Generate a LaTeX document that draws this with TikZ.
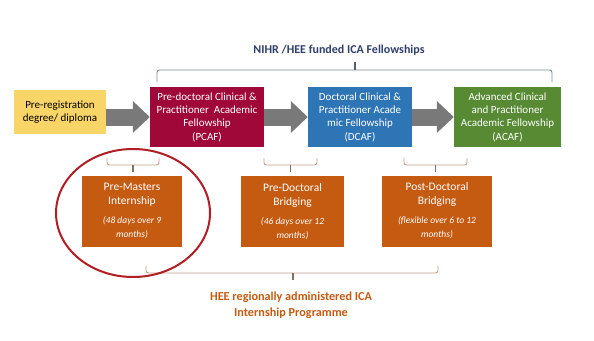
\documentclass[tikz,border=0pt]{standalone}
\usepackage{fontspec}
\setmainfont{Carlito}
\usetikzlibrary{arrows.meta}
\definecolor{prereg}{HTML}{F9D466}
\definecolor{pcafred}{HTML}{A0083A}
\definecolor{dcafblue}{HTML}{2E75B6}
\definecolor{acafgreen}{HTML}{578A33}
\definecolor{hee}{HTML}{C55A11}
\definecolor{nihr}{HTML}{2F3F6B}
\definecolor{ringred}{HTML}{B01E23}
\definecolor{topbr}{HTML}{7C889C}
\definecolor{lowbr}{HTML}{C0A089}
\newcommand\itsm{\fontsize{9.5}{13}\itshape\selectfont}
\begin{document}
\begin{tikzpicture}[x=1pt,y=-1pt,
  fellow/.style={minimum height=60pt,inner sep=0pt,align=center,text=white,font=\fontsize{11}{13.3}\selectfont},
  intern/.style={fill=hee,minimum height=71pt,inner sep=0pt,align=center,text=white,font=\fontsize{11.5}{14}\selectfont},
  blockarrow/.style={line width=17pt,draw=gray!95!black,-{Triangle[length=17pt,width=31pt]}},
  bracket/.style={line width=.9pt,rounded corners=2.5pt}]
\useasboundingbox (0,0) rectangle (594,340);
\node[fill=prereg,minimum width=92pt,minimum height=44pt,align=center,font=\fontsize{11}{13}\selectfont] (prereg) at (60,112){Pre-registration\\degree/ diploma};
\node[fellow,fill=pcafred,minimum width=114pt] (pcaf) at (207,117){Pre-doctoral Clinical \&\\Practitioner\ \ Academic\\Fellowship\\(PCAF)};
\node[fellow,fill=dcafblue,minimum width=104pt] (dcaf) at (360,117){Doctoral Clinical \&\\Practitioner Acade\\mic Fellowship\\(DCAF)};
\node[fellow,fill=acafgreen,minimum width=107pt] (acaf) at (507.5,117){Advanced Clinical\\and Practitioner\\Academic Fellowship\\(ACAF)};
\draw[blockarrow] (prereg.east|-pcaf.west)--(pcaf.west);\draw[blockarrow] (pcaf)--(dcaf);\draw[blockarrow] (dcaf)--(acaf);
\node[intern,minimum width=100pt] (premasters) at (132,211){Pre-Masters\\Internship\\[5pt]\itsm(48 days over 9\\\itsm months)};
\node[intern,minimum width=103pt] (predoc) at (292.5,211.5){Pre-Doctoral\\Bridging\\[5pt]\itsm(46 days over 12\\\itsm months)};
\node[intern,minimum width=110pt] (postdoc) at (437,211){Post-Doctoral\\Bridging\\[5pt]\itsm(flexible over 6 to 12\\\itsm months)};
% fellowship bracket
\draw[bracket,topbr] (157,82)--(157,70)--(552,70)--(552,82);\draw[line width=1.2pt,topbr!70!black] (355,70)--(355,62);
\node[font=\fontsize{12}{14}\bfseries\selectfont,text=nihr] (nihrlbl) at (339,50){NIHR /HEE funded ICA Fellowships};
% small brackets over internships
\foreach \a/\b in {107/159,264/317,404/467}{\draw[bracket,lowbr] (\a,158)--(\a,165)--(\b,165)--(\b,158);\draw[line width=1.2pt,lowbr!70!black] ({(\a+\b)/2},165)--({(\a+\b)/2},172);}
% programme bracket
\draw[bracket,lowbr] (146,266)--(146,273)--(438,273)--(438,266);\draw[line width=1.2pt,lowbr!70!black] (293,273)--(293,280);
\node[font=\fontsize{12.2}{16}\bfseries\selectfont,text=hee,align=center] (heelbl) at (291,305){HEE regionally administered ICA\\Internship Programme};
\draw[ringred,line width=2pt] (133,213) ellipse (77 and 64);
\end{tikzpicture}
\end{document}
